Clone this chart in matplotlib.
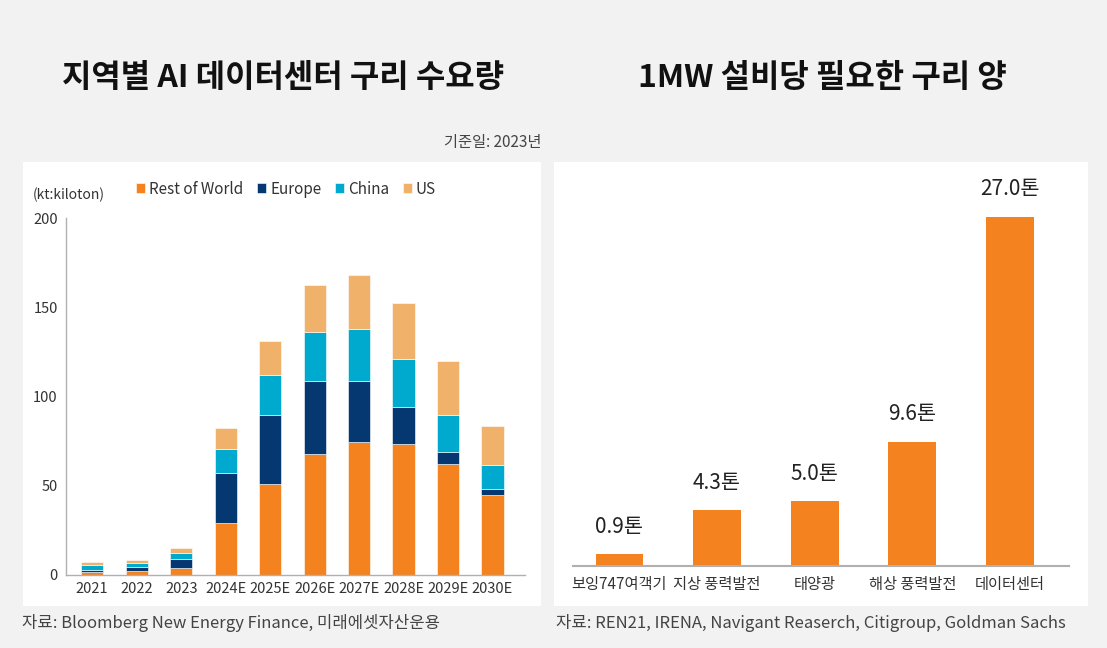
import numpy as np
import matplotlib.pyplot as plt
from matplotlib.patches import Rectangle

plt.rcParams['font.family'] = ['Noto Sans CJK KR', 'DejaVu Sans']

# left chart: copper demand by region (kt)
years = ["2021", "2022", "2023", "2024E", "2025E", "2026E", "2027E", "2028E", "2029E", "2030E"]
rest_of_world = [1.9, 2.2, 3.7, 29.3, 51.2, 67.6, 74.5, 73.4, 62.0, 45.0]
europe = [1.1, 2.5, 5.5, 27.7, 38.4, 40.9, 34.0, 20.7, 6.7, 3.2]
china = [2.4, 1.8, 3.1, 13.8, 22.4, 27.5, 29.5, 27.1, 20.9, 13.2]
us = [1.7, 1.9, 2.6, 11.7, 19.0, 26.5, 30.0, 31.4, 30.4, 21.8]

# right chart: copper per 1MW of facility (t)
facilities = ["보잉747여객기", "지상 풍력발전", "태양광", "해상 풍력발전", "데이터센터"]
copper_t = [0.9, 4.3, 5.0, 9.6, 27.0]

c_row = "#f4821f"
c_eu = "#053870"
c_cn = "#00aace"
c_us = "#f0b16a"
txt = "#333333"

W, H = 1107, 648
fig = plt.figure(figsize=(W / 100, H / 100), dpi=100)
fig.patch.set_facecolor("#f2f2f2")

def box(x0, y0, x1, y1):
    # pixel coords (top-left origin) -> figure fraction
    return [x0 / W, 1 - y1 / H, (x1 - x0) / W, (y1 - y0) / H]

# white panels (behind the axes)
for x0, x1 in [(23, 541), (554, 1088)]:
    fig.patches.append(Rectangle((x0 / W, 1 - 606 / H), (x1 - x0) / W, (606 - 162) / H,
                                 transform=fig.transFigure, facecolor="white", edgecolor="none", zorder=-5))

# titles
fig.text(283 / W, 1 - 78 / H, "지역별 AI 데이터센터 구리 수요량", ha="center", va="center",
         fontsize=23, fontweight="bold", color="#111111")
fig.text(822 / W, 1 - 78 / H, "1MW 설비당 필요한 구리 양", ha="center", va="center",
         fontsize=23, fontweight="bold", color="#111111")
fig.text(541 / W, 1 - 143 / H, "기준일: 2023년", ha="right", va="center", fontsize=11, color="#444444")

# ---- left chart
ax = fig.add_axes(box(66, 218, 525, 575))
ax.patch.set_alpha(0)
x = np.arange(len(years))
bw = 0.5
ek = dict(edgecolor="white", linewidth=0.4)
ax.bar(x, rest_of_world, bw, color=c_row, label="Rest of World", **ek)
b1 = np.array(rest_of_world)
ax.bar(x, europe, bw, bottom=b1, color=c_eu, label="Europe", **ek)
b2 = b1 + np.array(europe)
ax.bar(x, china, bw, bottom=b2, color=c_cn, label="China", **ek)
b3 = b2 + np.array(china)
ax.bar(x, us, bw, bottom=b3, color=c_us, label="US", **ek)
ax.set_xlim(-0.59, 9.73)
ax.set_ylim(0, 200)
ax.set_yticks([0, 50, 100, 150, 200])
ax.set_xticks(x)
ax.set_xticklabels(years)
ax.tick_params(length=0, labelsize=10.5, colors=txt, pad=5)
ax.tick_params(axis="y", pad=6)
for s in ["top", "right"]:
    ax.spines[s].set_visible(False)
for s in ["left", "bottom"]:
    ax.spines[s].set_color("#b0b0b0")
    ax.spines[s].set_linewidth(1)
ax.legend(loc="lower left", bbox_to_anchor=((130 - 66) / 459, 1.04), ncol=4, frameon=False,
          fontsize=11, handlelength=0.6, handleheight=0.6, handletextpad=0.25, columnspacing=0.9,
          borderaxespad=0, labelcolor=txt)
fig.text(33 / W, 1 - 195 / H, "(kt:kiloton)", ha="left", va="center", fontsize=10, color=txt)

# ---- right chart
ax2 = fig.add_axes(box(573, 200, 1069, 566))
ax2.patch.set_alpha(0)
xr = np.arange(len(facilities))
bars = ax2.bar(xr, copper_t, 0.49, color=c_row)
ax2.set_xlim(-0.476, 4.605)
ax2.set_ylim(0, 28.3)
ax2.set_yticks([])
ax2.set_xticks(xr)
ax2.set_xticklabels(facilities)
ax2.tick_params(length=0, labelsize=11, colors=txt, pad=7)
for s in ["top", "right", "left"]:
    ax2.spines[s].set_visible(False)
ax2.spines["bottom"].set_color("#b0b0b0")
ax2.spines["bottom"].set_linewidth(1.5)
for b, v in zip(bars, copper_t):
    ax2.annotate(f"{v:.1f}톤", (b.get_x() + b.get_width() / 2, v), xytext=(0, 12),
                 textcoords="offset points", ha="center", va="bottom", fontsize=15, color="#222222")

# sources
fig.text(22 / W, 1 - 623 / H, "자료: Bloomberg New Energy Finance, 미래에셋자산운용", ha="left", va="center",
         fontsize=12, color="#444444")
fig.text(556 / W, 1 - 623 / H, "자료: REN21, IRENA, Navigant Reaserch, Citigroup, Goldman Sachs", ha="left",
         va="center", fontsize=12, color="#444444")

fig.savefig("out.png", dpi=100, facecolor=fig.get_facecolor())
